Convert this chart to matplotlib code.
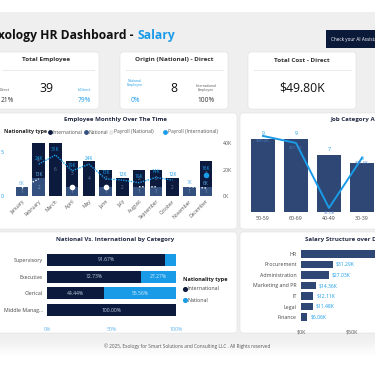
import numpy as np
import matplotlib
matplotlib.use('Agg')
import matplotlib.pyplot as plt
from matplotlib.patches import FancyBboxPatch, Rectangle

plt.rcParams['font.family'] = ['Open Sans', 'DejaVu Sans']

# ---- data ----
months = ['January', 'February', 'March', 'April', 'May', 'June', 'July',
          'August', 'September', 'October', 'November', 'December']
intl_count = [0, 4, 6, 3, 4, 2, 2, 2, 2, 2, 0, 3]
natl_count = [1, 2, 0, 1, 0, 1, 0, 1, 1, 0, 1, 1]
payroll_intl = [np.nan, 24, 31, 19, 24, 13, 12, 10, 14, 12, np.nan, 16]   # K
payroll_natl = [6, 13, np.nan, 7, np.nan, 7, np.nan, 7, 7, np.nan, 7, 6]  # K
natl_label_months = ['January', 'February', 'November', 'December']

age_groups = ['50-59', '60-69', '40-49', '30-39']
age_count = [9, 9, 7, 6]
age_salary = [30.2, 27.4, 1.6, 21.5]   # K

categories = ['Supervisory', 'Executive', 'Clerical', 'Middle Manag...']
cat_intl_pct = [91.67, 72.73, 44.44, 100.00]
cat_natl_pct = [8.33, 27.27, 55.56, 0.00]

departments = ['HR', 'Procurement', 'Administration', 'Marketing and PR', 'IT', 'Legal', 'Finance']
dept_salary = [80.0, 31.29, 27.03, 14.36, 12.11, 11.48, 6.06]   # K

NAVY = '#0b1a3d'
SLATE = '#34507f'
BAR = '#2e4775'
BLUE = '#1a9be8'
GREY_BG = '#efefef'

W, H = 375, 366


def rect(x0, y0, x1, y1):
    return [x0 / W, 1 - y1 / H, (x1 - x0) / W, (y1 - y0) / H]


fig = plt.figure(figsize=(3.75, 3.66), dpi=100)
bg = fig.add_axes([0, 0, 1, 1])
bg.set_xlim(0, W)
bg.set_ylim(H, 0)
bg.axis('off')

# background: white strip, grey canvas, footer fading to white
bg.add_patch(Rectangle((0, 12), W, 326, fc=GREY_BG, ec='none'))
grad = np.linspace(0, 1, 50).reshape(-1, 1)
bg.imshow(grad, cmap=matplotlib.colors.LinearSegmentedColormap.from_list('f', [GREY_BG, 'white']),
          extent=(0, W, 356, 338), aspect='auto', zorder=0)


def card(x0, y0, x1, y1):
    bg.add_patch(FancyBboxPatch((x0, y0), x1 - x0, y1 - y0, boxstyle='round,pad=0,rounding_size=3',
                                fc='white', ec='#e0e0e0', lw=0.4, zorder=1))


# header
bg.text(137, 36, 'Exology HR Dashboard - ', ha='right', va='center', fontsize=8.75, fontweight='bold', color='#111111')
bg.text(137, 36, 'Salary', ha='left', va='center', fontsize=8.75, fontweight='bold', color=BLUE)
bg.add_patch(Rectangle((326, 30), 60, 18, fc='#0c1a3a', ec='none'))
bg.text(331, 39.5, 'Check your AI Assistant', ha='left', va='center', fontsize=3.3, color='white')

# KPI cards
for x0, x1 in [(-5, 99), (120, 228), (248, 356)]:
    card(x0, 52, x1, 109)
    bg.plot([x0 + 6 if x0 > 0 else 2, x1 - 5], [70, 70], color='#e6e6e6', lw=0.6, zorder=2)

bg.text(46, 60, 'Total Employee', ha='center', va='center', fontsize=4.6, fontweight='bold', color='#333333', zorder=3)
bg.text(0, 90, 'Direct', ha='left', va='center', fontsize=2.6, color='#555555', zorder=3)
bg.text(1, 101, '21%', ha='left', va='center', fontsize=4.8, color='#333333', zorder=3)
bg.text(46, 89, '39', ha='center', va='center', fontsize=8.8, color='#111111', zorder=3)
bg.text(84, 90, 'InDirect', ha='center', va='center', fontsize=2.6, color=BLUE, zorder=3)
bg.text(84, 101, '79%', ha='center', va='center', fontsize=4.8, color=BLUE, zorder=3)

bg.text(174, 60, 'Origin (National) - Direct', ha='center', va='center', fontsize=4.6, fontweight='bold', color='#333333', zorder=3)
bg.text(135, 83, 'National\nEmployee', ha='center', va='center', fontsize=2.5, color=BLUE, linespacing=1.1, zorder=3)
bg.text(135, 101, '0%', ha='center', va='center', fontsize=4.8, color=BLUE, zorder=3)
bg.text(174, 88, '8', ha='center', va='center', fontsize=8.8, color='#111111', zorder=3)
bg.text(206, 88, 'International\nEmployee', ha='center', va='center', fontsize=2.5, color='#555555', linespacing=1.1, zorder=3)
bg.text(206, 101, '100%', ha='center', va='center', fontsize=4.8, color='#333333', zorder=3)

bg.text(302, 60, 'Total Cost - Direct', ha='center', va='center', fontsize=4.6, fontweight='bold', color='#333333', zorder=3)
bg.text(302, 88, '$49.80K', ha='center', va='center', fontsize=8.8, color='#111111', zorder=3)

# chart panels
card(-5, 113, 237, 229)
card(240, 113, 385, 229)
card(-5, 232, 237, 333)
card(240, 232, 385, 333)

bg.text(115, 120, 'Employee Monthly Over The Time', ha='center', va='center', fontsize=4.4, fontweight='bold', color='#222a44', zorder=3)
bg.text(330, 120, 'Job Category Age Distribution', ha='left', va='center', fontsize=4.4, fontweight='bold', color='#222a44', zorder=3)
bg.text(115, 239, 'National Vs. International by Category', ha='center', va='center', fontsize=4.4, fontweight='bold', color='#222a44', zorder=3)
bg.text(305, 239, 'Salary Structure over Departments', ha='left', va='center', fontsize=4.4, fontweight='bold', color='#222a44', zorder=3)

# monthly legend
bg.text(47, 132, 'Nationality type', ha='right', va='center', fontsize=3.8, fontweight='bold', color='#222222', zorder=3)
leg = [(50, NAVY, 'International'), (86, SLATE, 'National'),
       (111, '#e8e8e8', 'Payroll (National)'), (165, BLUE, 'Payroll (International)')]
for lx, c, lab in leg:
    bg.scatter([lx], [132], s=6, color=c, zorder=3)
    bg.text(lx + 2.5, 132, lab, ha='left', va='center', fontsize=3.6, color='#555555', zorder=3)

bg.text(187, 346, '\u00a9 2025, Exology for Smart Solutions and Consulting LLC . All Rights reserved',
        ha='center', va='center', fontsize=3.4, color='#555555', zorder=3)

# ---- Employee monthly chart ----
ax = fig.add_axes(rect(13.6, 143, 214.4, 196))
ax.set_facecolor('none')
x = np.arange(len(months))
ax.bar(x, natl_count, width=0.75, color=SLATE, zorder=2)
ax.bar(x, intl_count, width=0.75, bottom=natl_count, color=NAVY, zorder=2)
for i in range(len(months)):
    if natl_count[i]:
        ax.text(i, natl_count[i] / 2, str(natl_count[i]), ha='center', va='center', fontsize=3.3, color='#8c9bb8', zorder=3)
    if intl_count[i]:
        ax.text(i, natl_count[i] + intl_count[i] / 2, str(intl_count[i]), ha='center', va='center', fontsize=3.3, color='#6b7a99', zorder=3)
ax.set_xlim(-0.5, len(months) - 0.5)
ax.set_ylim(0, 6)
ax.set_yticks([0, 5])
ax.set_xticks(x)
ax.set_xticklabels(months, rotation=45, ha='right', rotation_mode='anchor', fontsize=3.6, color='#555555')
ax.tick_params(axis='both', length=0, pad=2)
ax.tick_params(axis='y', labelsize=3.8, labelcolor=BLUE, pad=7)
for s in ax.spines.values():
    s.set_visible(False)

ax2 = ax.twinx()
ax2.set_ylim(0, 40)
ax2.set_yticks([0, 20, 40])
ax2.set_yticklabels(['0K', '20K', '40K'])
ax2.tick_params(axis='y', length=0, labelsize=3.8, labelcolor='#555555', pad=6)
for s in ax2.spines.values():
    s.set_visible(False)


def isolated(vals):
    v = np.array(vals, dtype=float)
    out = []
    for i in range(len(v)):
        left = np.isnan(v[i - 1]) if i > 0 else True
        right = np.isnan(v[i + 1]) if i < len(v) - 1 else True
        if not np.isnan(v[i]) and left and right:
            out.append(i)
    return out


ax2.plot(x, payroll_natl, color='white', lw=1.0, ls=(0, (1, 1.2)), zorder=4)
iso = isolated(payroll_natl)
ax2.scatter(iso, [payroll_natl[i] for i in iso], s=9, color='white', zorder=5)
ax2.plot(x, payroll_intl, color=BLUE, lw=1.0, ls=(0, (1, 0.8)), zorder=4)
iso = isolated(payroll_intl)
ax2.scatter(iso, [payroll_intl[i] for i in iso], s=9, color=BLUE, zorder=5)
for i, v in enumerate(payroll_intl):
    if not np.isnan(v):
        ax2.text(i, v + 2.5, f'{v:.0f}K', ha='center', va='bottom', fontsize=3.4, color=BLUE, zorder=6)
for i, v in enumerate(payroll_natl):
    if months[i] in natl_label_months:
        ax2.text(i, v + 1.5, f'{v:.0f}K', ha='center', va='bottom', fontsize=3.4, color='#5fb4ee', zorder=6)

# ---- Job category age chart ----
axj = fig.add_axes(rect(246.5, 130.9, 378.5, 212))
axj.set_facecolor('none')
xj = np.arange(len(age_groups))
axj.bar(xj, age_count, width=0.75, color=BAR, zorder=2)
for i, v in enumerate(age_count):
    axj.text(i, v + 0.35, str(v), ha='center', va='bottom', fontsize=3.8, color=BLUE, zorder=3)
axj.set_xlim(-0.5, len(age_groups) - 0.5)
axj.set_ylim(0, 10)
axj.set_yticks([])
axj.set_xticks(xj)
axj.set_xticklabels(age_groups, fontsize=3.8, color='#444444')
axj.tick_params(axis='x', length=0, pad=3)
for s in axj.spines.values():
    s.set_visible(False)
axj2 = axj.twinx()
axj2.plot(xj, age_salary, color=BLUE, lw=1.4, zorder=4)
for i, v in enumerate(age_salary):
    axj2.text(i, v - 1.2, f'${v:.1f}K', ha='center', va='top', fontsize=3.2, color='#4a7fc0', zorder=5)
axj2.set_ylim(0, 32.2)
axj2.set_yticks([])
for s in axj2.spines.values():
    s.set_visible(False)

# ---- National vs International ----
axn = fig.add_axes(rect(47, 251.6, 176, 318.4))
axn.set_facecolor('none')
yn = np.arange(len(categories))
axn.barh(yn, cat_intl_pct, height=0.72, color=NAVY, zorder=2)
axn.barh(yn, cat_natl_pct, height=0.72, left=cat_intl_pct, color=BLUE, zorder=2)
for i in range(len(categories)):
    axn.text(cat_intl_pct[i] / 2, i, f'{cat_intl_pct[i]:.2f}%', ha='center', va='center', fontsize=3.6, color='#c9d2e3', zorder=3)
    if cat_natl_pct[i] > 15:
        axn.text(cat_intl_pct[i] + cat_natl_pct[i] / 2, i, f'{cat_natl_pct[i]:.2f}%', ha='center', va='center',
                 fontsize=3.6, color='#d8ecfb', zorder=3)
axn.set_ylim(len(categories) - 0.5, -0.5)
axn.set_xlim(0, 100)
axn.set_yticks(yn)
axn.set_yticklabels(categories, fontsize=3.8, color='#444444')
axn.set_xticks([0, 50, 100])
axn.set_xticklabels(['0%', '50%', '100%'], fontsize=3.8, color='#5fb4ee')
axn.tick_params(axis='both', length=0)
axn.tick_params(axis='x', pad=6)
axn.tick_params(axis='y', pad=3)
for s in axn.spines.values():
    s.set_visible(False)

bg.text(183, 279, 'Nationality type', ha='left', va='center', fontsize=4.0, fontweight='bold', color='#222222', zorder=3)
bg.scatter([185], [288.5], s=7, color=NAVY, zorder=3)
bg.text(188, 288.5, 'International', ha='left', va='center', fontsize=3.8, color='#444444', zorder=3)
bg.scatter([185], [300], s=7, color=BLUE, zorder=3)
bg.text(188, 300, 'National', ha='left', va='center', fontsize=3.8, color='#444444', zorder=3)

# ---- Salary structure ----
axs = fig.add_axes(rect(301, 248.75, 382.6, 322.25))
axs.set_facecolor('none')
ys = np.arange(len(departments))
axs.barh(ys, dept_salary, height=0.75, color=BAR, zorder=2)
for i, v in enumerate(dept_salary):
    axs.text(v + 3, i, f'${v:.2f}K', ha='left', va='center', fontsize=3.6, color=BLUE, zorder=3)
axs.set_ylim(len(departments) - 0.5, -0.5)
axs.set_xlim(0, 80)
axs.set_yticks(ys)
axs.set_yticklabels(departments, fontsize=3.8, color='#444444')
axs.set_xticks([0, 50])
axs.set_xticklabels(['$0K', '$50K'], fontsize=3.8, color='#555555')
axs.tick_params(axis='both', length=0)
axs.tick_params(axis='x', pad=5)
axs.tick_params(axis='y', pad=3)
for s in axs.spines.values():
    s.set_visible(False)

fig.savefig('out.png', dpi=100)
